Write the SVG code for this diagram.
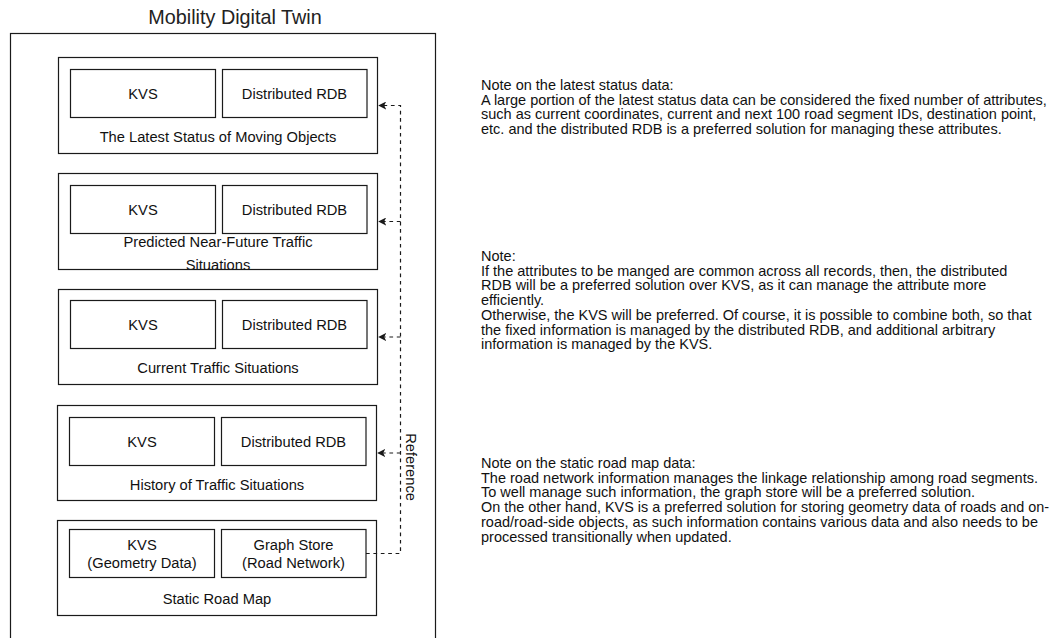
<svg xmlns="http://www.w3.org/2000/svg" width="1053" height="638" viewBox="0 0 1053 638">
<defs>
<style>
.box{fill:#fff;stroke:#1a1a1a;stroke-width:1.2}
.t{font-family:"Liberation Sans",Arial,sans-serif;font-size:14.7px;fill:#111;text-anchor:middle;dominant-baseline:central}
.title{font-family:"Liberation Sans",Arial,sans-serif;font-size:19.8px;fill:#222;text-anchor:middle;dominant-baseline:central}
.note{font-family:"Liberation Sans",Arial,sans-serif;font-size:14.5px;fill:#111;dominant-baseline:central}
.edge{fill:none;stroke:#1a1a1a;stroke-width:1.2;stroke-dasharray:3.7 3.7}
</style>
<marker id="arr" viewBox="0 0 10 10" refX="9" refY="5" markerWidth="8" markerHeight="8" markerUnits="userSpaceOnUse" orient="auto">
<path d="M0,0 L10,5 L0,10 L2.5,5 Z" fill="#1a1a1a"/>
</marker>
</defs>
<rect width="1053" height="638" fill="#fff"/>

<g id="mobility-digital-twin">
<rect class="box" x="10.5" y="33.5" width="425" height="640"/>
<text class="title" x="235" y="17">Mobility Digital Twin</text>
</g>

<g id="latest-status">
<rect class="box" x="58.5" y="57.5" width="319" height="96"/>
<rect class="box" x="70.5" y="69.5" width="145" height="48"/>
<rect class="box" x="222.5" y="69.5" width="144.5" height="48"/>
<text class="t" x="143" y="93.5">KVS</text>
<text class="t" x="294.5" y="93.5">Distributed RDB</text>
<text class="t" x="218" y="136.7">The Latest Status of Moving Objects</text>
</g>

<g id="predicted-traffic">
<rect class="box" x="58.5" y="173.5" width="319" height="96"/>
<rect class="box" x="70.5" y="185.5" width="145" height="48"/>
<rect class="box" x="222.5" y="185.5" width="144.5" height="48"/>
<text class="t" x="143" y="209.5">KVS</text>
<text class="t" x="294.5" y="209.5">Distributed RDB</text>
<text class="t" x="218" y="241.5">Predicted Near-Future Traffic</text>
<text class="t" x="218" y="264.5">Situations</text>
<line x1="58.5" y1="269.5" x2="377.5" y2="269.5" stroke="#1a1a1a" stroke-width="1.2"/>
</g>

<g id="current-traffic">
<rect class="box" x="58.5" y="289.5" width="319" height="95"/>
<rect class="box" x="70.5" y="300.5" width="145" height="48"/>
<rect class="box" x="222.5" y="300.5" width="144.5" height="48"/>
<text class="t" x="143" y="324.5">KVS</text>
<text class="t" x="294.5" y="324.5">Distributed RDB</text>
<text class="t" x="218" y="367.7">Current Traffic Situations</text>
</g>

<g id="history-traffic">
<rect class="box" x="57.5" y="405.5" width="319" height="95"/>
<rect class="box" x="69.5" y="417.5" width="145" height="48"/>
<rect class="box" x="221.5" y="417.5" width="144.5" height="48"/>
<text class="t" x="142" y="441.5">KVS</text>
<text class="t" x="293.5" y="441.5">Distributed RDB</text>
<text class="t" x="217" y="484.7">History of Traffic Situations</text>
</g>

<g id="static-road-map">
<rect class="box" x="57.5" y="520.5" width="319" height="95"/>
<rect class="box" x="69.5" y="529.5" width="145" height="48"/>
<rect class="box" x="221.5" y="529.5" width="144.5" height="48"/>
<text class="t" x="142" y="545">KVS</text>
<text class="t" x="142" y="562.7">(Geometry Data)</text>
<text class="t" x="293.5" y="545">Graph Store</text>
<text class="t" x="293.5" y="562.7">(Road Network)</text>
<text class="t" x="217" y="599">Static Road Map</text>
</g>

<g id="connectors">
<path class="edge" d="M366,553.5 H400.5 V105.5 H379" marker-end="url(#arr)"/>
<path class="edge" d="M400.5,221.5 H379" marker-end="url(#arr)"/>
<path class="edge" d="M400.5,337 H379" marker-end="url(#arr)"/>
<path class="edge" d="M400.5,453 H378" marker-end="url(#arr)"/>
<text class="t" transform="translate(410.5,467) rotate(90)" x="0" y="0">Reference</text>
</g>

<g id="note-latest">
<text class="note" x="481" y="85">
<tspan x="481" y="85">Note on the latest status data:</tspan>
<tspan x="481" y="99.7">A large portion of the latest status data can be considered the fixed number of attributes,</tspan>
<tspan x="481" y="114.4">such as current coordinates, current and next 100 road segment IDs, destination point,</tspan>
<tspan x="481" y="129.1">etc. and the distributed RDB is a preferred solution for managing these attributes.</tspan>
</text>
</g>

<g id="note-general">
<text class="note" x="481" y="256">
<tspan x="481" y="256">Note:</tspan>
<tspan x="481" y="270.7">If the attributes to be manged are common across all records, then, the distributed</tspan>
<tspan x="481" y="285.4">RDB will be a preferred solution over KVS, as it can manage the attribute more</tspan>
<tspan x="481" y="300.1">efficiently.</tspan>
<tspan x="481" y="314.8">Otherwise, the KVS will be preferred. Of course, it is possible to combine both, so that</tspan>
<tspan x="481" y="329.5">the fixed information is managed by the distributed RDB, and additional arbitrary</tspan>
<tspan x="481" y="344.2">information is managed by the KVS.</tspan>
</text>
</g>

<g id="note-static">
<text class="note" x="481" y="463">
<tspan x="481" y="463">Note on the static road map data:</tspan>
<tspan x="481" y="477.7">The road network information manages the linkage relationship among road segments.</tspan>
<tspan x="481" y="492.4">To well manage such information, the graph store will be a preferred solution.</tspan>
<tspan x="481" y="507.1" textLength="568" lengthAdjust="spacingAndGlyphs">On the other hand, KVS is a preferred solution for storing geometry data of roads and on-</tspan>
<tspan x="481" y="521.8">road/road-side objects, as such information contains various data and also needs to be</tspan>
<tspan x="481" y="536.5">processed transitionally when updated.</tspan>
</text>
</g>
</svg>
